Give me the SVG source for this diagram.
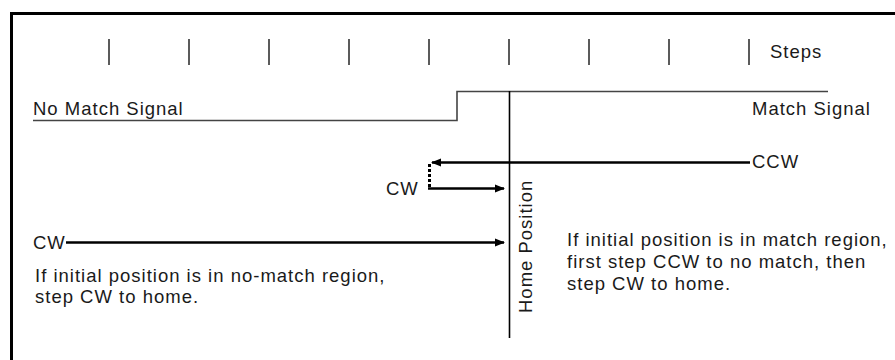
<svg xmlns="http://www.w3.org/2000/svg" width="895" height="360" viewBox="0 0 895 360">
<style>
text{font-family:"Liberation Sans",Arial,sans-serif;font-size:18.5px;letter-spacing:1px;fill:#1a1a1a}
.tick{stroke:#333;stroke-width:1.6}
.sig{fill:none;stroke:#444;stroke-width:1.6}
.arr{fill:none;stroke:#000;stroke-width:2.6}
</style>
<defs>
<marker id="ah" viewBox="0 0 10 10" refX="9" refY="5" markerWidth="4" markerHeight="4" orient="auto" markerUnits="strokeWidth">
<path d="M0,1 L10,5 L0,9 z" fill="#000"/>
</marker>
</defs>
<rect width="895" height="360" fill="#fff"/>
<path d="M11.5,360 V13.5 H895" fill="none" stroke="#000" stroke-width="3"/>
<g id="steps">
<path class="tick" d="M109,39V65M189,39V65M269,39V65M349,39V65M429,39V65M509,39V65M589,39V65M669,39V65M749,39V65"/>
<text x="770" y="58">Steps</text>
</g>
<g id="signal">
<path class="sig" d="M33,120.5H457V91.5H828"/>
<text x="33" y="115">No Match Signal</text>
<text x="752" y="115">Match Signal</text>
</g>
<g id="home">
<line x1="509.5" y1="91" x2="509.5" y2="338" stroke="#000" stroke-width="1.6"/>
<text transform="translate(532,313) rotate(-90)">Home Position</text>
</g>
<g id="connectors">
<line class="arr" x1="750" y1="162.5" x2="432" y2="162.5" marker-end="url(#ah)"/>
<line x1="429.5" y1="164" x2="429.5" y2="188" stroke="#000" stroke-width="3" stroke-dasharray="3,2"/>
<line class="arr" x1="428" y1="188.5" x2="504" y2="188.5" marker-end="url(#ah)"/>
<line class="arr" x1="66" y1="242.5" x2="504" y2="242.5" marker-end="url(#ah)"/>
</g>
<g id="labels">
<text x="752" y="168">CCW</text>
<text x="386" y="195">CW</text>
<text x="33" y="249">CW</text>
<text x="35" y="282">If initial position is in no-match region,</text>
<text x="35" y="303">step CW to home.</text>
<text x="567" y="246">If initial position is in match region,</text>
<text x="567" y="268">first step CCW to no match, then</text>
<text x="567" y="290">step CW to home.</text>
</g>
</svg>
